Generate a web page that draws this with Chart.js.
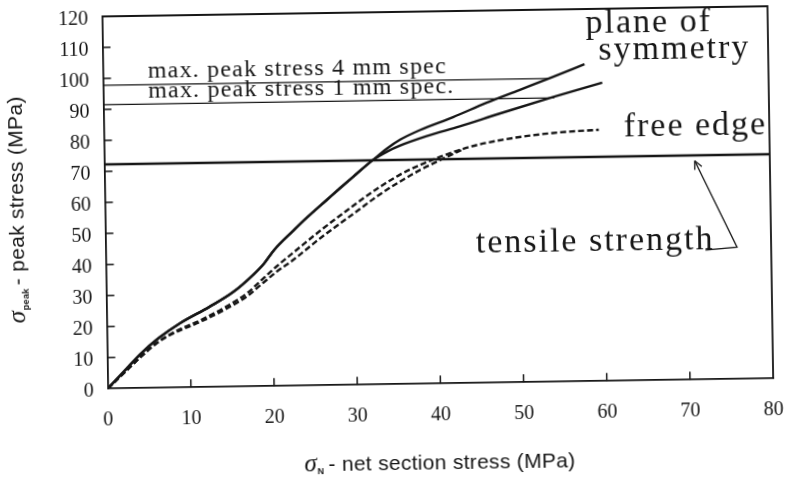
<!DOCTYPE html>
<html>
<head>
<meta charset="utf-8">
<script src="https://cdn.jsdelivr.net/npm/chart.js@4.4.1/dist/chart.umd.min.js"></script>
<style>
    html, body { margin: 0; padding: 0; background: #fff; overflow: hidden; }
    #wrap { width: 787px; height: 479px; transform: rotate(-0.88deg); }
</style>
</head>
<body>
<div id="wrap"><canvas id="stressChart"></canvas></div>
<script>
// --- Data (net section stress vs. peak stress, MPa) ---
const symX4 = [0, 2, 4, 6.2, 8.8, 12.4, 15.3, 17.7, 19, 20.3, 22.6, 24.2, 26.7, 28.3, 29.9, 32.3, 34, 35.6, 38, 42, 46, 50, 54, 57.9];
const symY4 = [0, 5.5, 11, 16, 20.7, 25.9, 30.6, 36, 39.5, 44, 50, 54, 59.8, 63.5, 67.1, 72.4, 76, 78.8, 81.8, 85.8, 90.2, 94.2, 98.2, 102.2];
const symX1 = [0, 2, 4, 6.2, 8.8, 12.4, 15.3, 17.7, 19, 20.3, 22.6, 24.2, 26.7, 28.3, 29.9, 32.3, 34, 35.6, 38.8, 42.8, 47.7, 54.1, 60];
const symY1 = [0, 5.5, 11, 16, 20.7, 25.9, 30.6, 36, 39.5, 44, 50, 54, 59.8, 63.5, 67.1, 72.4, 75, 76.9, 79.8, 82.8, 86.8, 91.8, 96.2];
const edgeX4 = [0, 2, 4, 6, 8, 11.2, 14.5, 17, 18.5, 20.5, 22.5, 26, 30.3, 32.7, 35.5, 38, 40.5, 42.5, 45, 48, 51, 54, 57, 59.5];
const edgeY4 = [0, 5, 10, 14.5, 17.8, 21.5, 26, 30.2, 33.8, 38.5, 42.8, 50.2, 58.6, 63, 67.5, 70.6, 73.2, 75, 76.8, 78.3, 79.4, 80.2, 80.7, 81];
const edgeX1 = [0, 2, 4, 6, 8, 11.2, 14.5, 17, 18.5, 20.5, 22.5, 26, 30.3, 32.7, 35.5, 38, 40.5, 43];
const edgeY1 = [0, 5, 10, 14.5, 17.5, 21, 25.3, 29.2, 32.5, 36.8, 40.5, 47.8, 56, 60.6, 65.3, 69, 72.2, 75.2];

// reference lines
const maxPeak4X = [0, 53.6], maxPeak4Y = [97.8, 97.8];
const maxPeak1X = [0, 54.2], maxPeak1Y = [91.5, 91.5];
const tensileX = [0, 80], tensileY = [72.3, 72.3];

const xTicks = [0, 10, 20, 30, 40, 50, 60, 70, 80];
const yTicks = [0, 10, 20, 30, 40, 50, 60, 70, 80, 90, 100, 110, 120];

const INK = '#161616';
const SERIF = '"Liberation Serif", "Times New Roman", serif';
const SANS = '"Liberation Sans", Arial, sans-serif';

function pts(xs, ys) {
    return xs.map((x, i) => ({ x: x, y: ys[i] }));
}

function curve(xs, ys, dashed) {
    return {
        data: pts(xs, ys),
        borderColor: INK,
        borderWidth: 2.4,
        borderDash: dashed ? [6, 3] : [],
        pointRadius: 0,
        cubicInterpolationMode: 'monotone',
        fill: false
    };
}

function refLine(xs, ys, width) {
    return {
        data: pts(xs, ys),
        borderColor: INK,
        borderWidth: width,
        pointRadius: 0,
        tension: 0,
        fill: false
    };
}

// --- Frame, inner ticks, labels and axis titles ---
const framePlugin = {
    id: 'frame',
    afterDraw(chart) {
        const ctx = chart.ctx;
        const xs = chart.scales.x, ys = chart.scales.y;
        const a = chart.chartArea;
        const px = v => xs.getPixelForValue(v);
        const py = v => ys.getPixelForValue(v);

        ctx.save();
        ctx.strokeStyle = INK;
        ctx.lineWidth = 1.8;
        ctx.beginPath();
        ctx.moveTo(a.left, a.top);
        ctx.lineTo(a.right, a.top);
        ctx.lineTo(a.right, a.bottom);
        ctx.stroke();

        // inner tick marks
        ctx.lineWidth = 1.5;
        ctx.beginPath();
        xTicks.slice(1, -1).forEach(v => {
            ctx.moveTo(px(v), a.bottom);
            ctx.lineTo(px(v), a.bottom - 8);
        });
        yTicks.slice(1, -1).forEach(v => {
            ctx.moveTo(a.left, py(v));
            ctx.lineTo(a.left + 8, py(v));
        });
        ctx.stroke();

        // annotations
        ctx.fillStyle = INK;
        ctx.textBaseline = 'alphabetic';
        ctx.textAlign = 'left';
        ctx.letterSpacing = '1.2px';
        ctx.font = '24px ' + SERIF;
        ctx.fillText('max. peak stress 4 mm spec', px(5.4), py(99.9));
        ctx.fillText('max. peak stress 1 mm spec.', px(5.4), py(93.7));

        ctx.letterSpacing = '2px';
        ctx.font = '34px ' + SERIF;
        ctx.fillText('plane of', px(58.1), py(112.3));
        ctx.fillText('symmetry', px(59.6), py(103.5));
        ctx.fillText('free edge', px(62.5), py(78.7));
        ctx.fillText('tensile strength', px(44.5), py(41.9));
        ctx.letterSpacing = '0px';

        // arrow to the tensile strength line
        ctx.lineWidth = 1.3;
        ctx.beginPath();
        ctx.moveTo(px(72.1), py(41.7));
        ctx.lineTo(px(75.9), py(42.5));
        ctx.lineTo(px(70.97), py(70.5));
        ctx.stroke();
        const tx = px(70.97), ty = py(70.5);
        const ang = Math.atan2(ty - py(42.5), tx - px(75.9));
        ctx.beginPath();
        [0.45, -0.45].forEach(d => {
            ctx.moveTo(tx, ty);
            ctx.lineTo(tx - 9 * Math.cos(ang + d), ty - 9 * Math.sin(ang + d));
        });
        ctx.stroke();

        // x axis title
        const xt = '- net section stress (MPa)';
        ctx.letterSpacing = '0.3px';
        ctx.font = '21px ' + SANS;
        const w1 = ctx.measureText(xt).width;
        const x0 = 436 - (w1 + 23) / 2;
        const yb = 470;
        ctx.font = 'italic 25px ' + SERIF;
        ctx.fillText('σ', x0, yb);
        ctx.font = 'bold 9px ' + SANS;
        ctx.fillText('N', x0 + 13, yb + 3);
        ctx.font = '21px ' + SANS;
        ctx.fillText(xt, x0 + 24, yb);

        // y axis title
        ctx.save();
        ctx.translate(24, 203);
        ctx.rotate(-Math.PI / 2);
        const yt = '- peak stress (MPa)';
        ctx.font = '21px ' + SANS;
        const w2 = ctx.measureText(yt).width;
        const y0 = -(w2 + 40) / 2;
        ctx.font = 'italic 25px ' + SERIF;
        ctx.fillText('σ', y0, 0);
        ctx.font = 'bold 9px ' + SANS;
        ctx.fillText('peak', y0 + 13, 4);
        ctx.font = '21px ' + SANS;
        ctx.fillText(yt, y0 + 38, 0);
        ctx.restore();

        ctx.restore();
    }
};

const chartCtx = document.getElementById('stressChart').getContext('2d');

new Chart(chartCtx, {
    type: 'line',
    data: {
        datasets: [
            curve(symX4, symY4, false),
            curve(symX1, symY1, false),
            curve(edgeX4, edgeY4, true),
            curve(edgeX1, edgeY1, true),
            refLine(maxPeak4X, maxPeak4Y, 1.3),
            refLine(maxPeak1X, maxPeak1Y, 1.3),
            refLine(tensileX, tensileY, 2.6)
        ]
    },
    options: {
        responsive: true,
        maintainAspectRatio: false,
        animation: false,
        layout: { padding: { top: 12, right: 16, left: 0, bottom: 0 } },
        plugins: {
            legend: { display: false },
            tooltip: { enabled: false }
        },
        scales: {
            x: {
                type: 'linear',
                min: 0,
                max: 80,
                afterFit: scale => {
                    scale.height = 94.8;
                    scale.paddingLeft = 0;
                    scale.paddingRight = 0;
                },
                afterBuildTicks: scale => { scale.ticks = xTicks.map(v => ({ value: v })); },
                grid: { display: false, drawTicks: false },
                border: { display: true, color: INK, width: 1.8 },
                ticks: { color: INK, padding: 20, font: { family: SERIF, size: 20 } }
            },
            y: {
                min: 0,
                max: 120,
                afterFit: scale => {
                    scale.width = 105.5;
                    scale.paddingTop = 0;
                    scale.paddingBottom = 0;
                },
                afterBuildTicks: scale => { scale.ticks = yTicks.map(v => ({ value: v })); },
                grid: { display: false, drawTicks: false },
                border: { display: true, color: INK, width: 1.8 },
                ticks: { color: INK, padding: 14, labelOffset: 3, font: { family: SERIF, size: 20 } }
            }
        }
    },
    plugins: [framePlugin]
});
</script>
</body>
</html>
